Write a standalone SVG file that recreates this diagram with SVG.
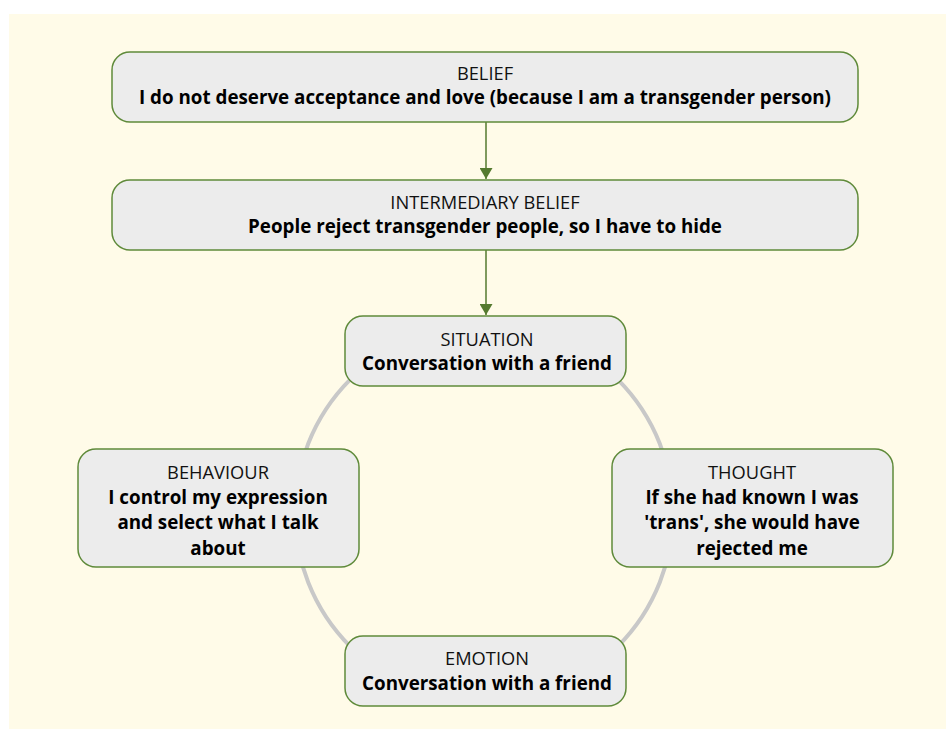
<svg xmlns="http://www.w3.org/2000/svg" width="946" height="729" viewBox="0 0 946 729">
<style>
.box{fill:#ececec;stroke:#5f8a3a;stroke-width:1.5}
.lbl{font-family:"Open Sans","Liberation Sans",sans-serif;font-size:18.3px;fill:#111;text-anchor:middle}
.bd{font-family:"Open Sans","Liberation Sans",sans-serif;font-size:18.8px;font-weight:bold;fill:#000;text-anchor:middle}
.arr{stroke:#557a2f;stroke-width:1.5;fill:none}
</style>
<defs>
<marker id="ah" viewBox="0 0 11 13" refX="11" refY="6.5" markerWidth="11" markerHeight="13" markerUnits="userSpaceOnUse" orient="auto">
<path d="M0,0 L11,6.5 L0,13 Z" fill="#557a2f"/>
</marker>
</defs>
<rect x="9" y="14" width="937" height="715" fill="#fffbe8"/>
<g id="connectors">
<circle cx="484" cy="513" r="189" fill="none" stroke="#c8c8c8" stroke-width="4"/>
<line class="arr" x1="486" y1="122" x2="486" y2="179" marker-end="url(#ah)"/>
<line class="arr" x1="486" y1="250" x2="486" y2="315" marker-end="url(#ah)"/>
</g>
<g id="belief">
<rect class="box" x="112" y="52" width="746" height="70" rx="18"/>
<text class="lbl" x="485" y="80">BELIEF</text>
<text class="bd" x="485" y="104">I do not deserve acceptance and love (because I am a transgender person)</text>
</g>
<g id="intermediary">
<rect class="box" x="112" y="180" width="746" height="70" rx="18"/>
<text class="lbl" x="485" y="209">INTERMEDIARY BELIEF</text>
<text class="bd" x="485" y="233">People reject transgender people, so I have to hide</text>
</g>
<g id="situation">
<rect class="box" x="345" y="316" width="281" height="70" rx="18"/>
<text class="lbl" x="487" y="346">SITUATION</text>
<text class="bd" x="487" y="370">Conversation with a friend</text>
</g>
<g id="behaviour">
<rect class="box" x="78" y="449" width="281" height="118" rx="18"/>
<text class="lbl" x="218" y="479">BEHAVIOUR</text>
<text class="bd" x="218" y="504">I control my expression</text>
<text class="bd" x="218" y="529">and select what I talk</text>
<text class="bd" x="218" y="555">about</text>
</g>
<g id="thought">
<rect class="box" x="612" y="449" width="281" height="118" rx="18"/>
<text class="lbl" x="752" y="479">THOUGHT</text>
<text class="bd" x="752" y="504">If she had known I was</text>
<text class="bd" x="752" y="529">'trans', she would have</text>
<text class="bd" x="752" y="555">rejected me</text>
</g>
<g id="emotion">
<rect class="box" x="345" y="636" width="281" height="70" rx="18"/>
<text class="lbl" x="487" y="665">EMOTION</text>
<text class="bd" x="487" y="690">Conversation with a friend</text>
</g>
</svg>
